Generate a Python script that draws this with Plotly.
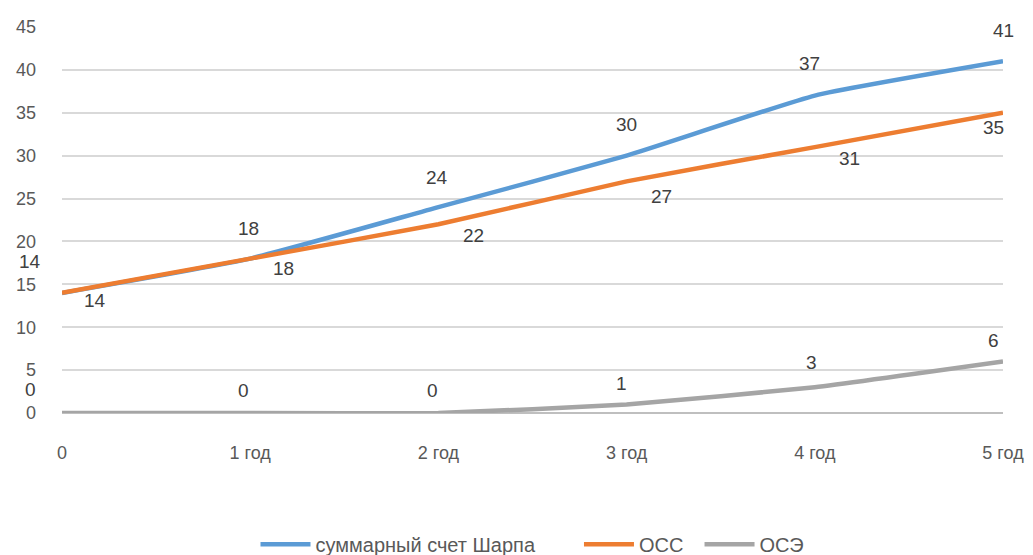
import plotly.graph_objects as go

categories = ["0", "1 год", "2 год", "3 год", "4 год", "5 год"]
sharpe = [14, 18, 24, 30, 37, 41]
oss = [14, 18, 22, 27, 31, 35]
ose = [0, 0, 0, 1, 3, 6]

names = ["суммарный счет Шарпа", "ОСС", "ОСЭ"]
name_pad = ["\u00a0" * 7, "\u00a0" * 2, ""]
colors = ["#5B9BD5", "#ED7D31", "#A5A5A5"]

# label offsets (style)
shifts = [
    [(-32, 31), (-2, 30), (-1, 30), (0, 31), (-5, 32), (0, 31)],
    [(33, -8), (33, -10), (35, -11), (35, -15), (35, -11), (-10, -15)],
    [(-32, 24), (-7, 23), (-6, 23), (-5, 21), (-3, 25), (-10, 21)],
]

xs = list(range(len(categories)))
fig = go.Figure()
annotations = []
for name, pad, vals, col, sh in zip(names, name_pad, [sharpe, oss, ose], colors, shifts):
    fig.add_trace(go.Scatter(x=xs, y=vals, name=name + pad, mode="lines",
                             line=dict(color=col, width=4.5, shape="spline", smoothing=0.4)))
    for xi, v, (dx, dy) in zip(xs, vals, sh):
        annotations.append(dict(x=xi, y=v, text=str(v), showarrow=False,
                                xshift=dx, yshift=dy,
                                font=dict(size=19, color="#404040", family="Liberation Sans")))

fig.update_layout(
    width=1033, height=555,
    margin=dict(l=54, r=38, t=19, b=150, autoexpand=False),
    plot_bgcolor="white", paper_bgcolor="white",
    font=dict(family="Liberation Sans", size=18, color="#595959"),
    annotations=annotations,
    showlegend=True,
    legend=dict(orientation="h", x=0.5, xanchor="center", y=-0.34, yanchor="middle",
                font=dict(size=20, color="#595959"), itemwidth=50),
    xaxis=dict(range=[0, 5], tickvals=xs, ticktext=categories, showgrid=False,
               zeroline=False, showline=False, ticks="", ticklabelstandoff=27,
               automargin=False),
    yaxis=dict(range=[0, 45], dtick=5, showgrid=True, gridcolor="#D9D9D9", gridwidth=1.5,
               zeroline=True, zerolinecolor="#BFBFBF", zerolinewidth=2,
               showline=False, ticks="", ticklabelstandoff=25, automargin=False),
)

fig.write_html("out.html")
